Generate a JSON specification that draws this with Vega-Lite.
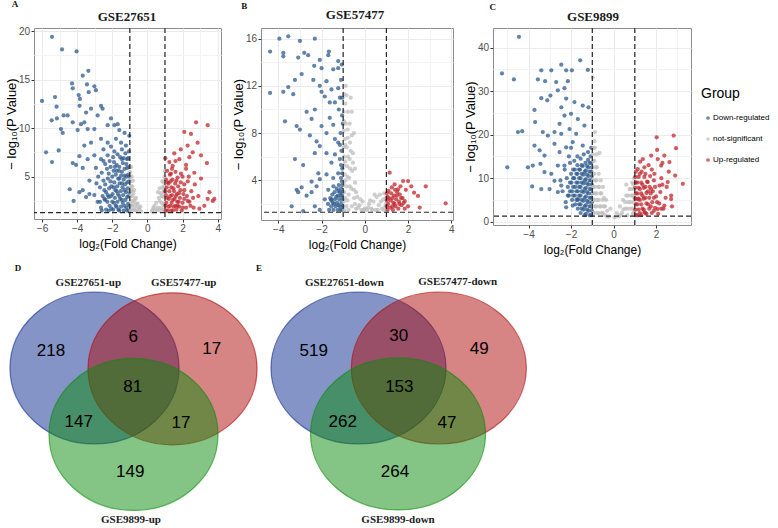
{
"$schema":"https://vega.github.io/schema/vega-lite/v6.json",
"background":"white",
"padding":{"left":4,"top":0,"right":0,"bottom":0},
"bounds":"flush",
"columns":3,
"spacing":{"row":47,"column":40},
"resolve":{"scale":{"color":"independent"}},
"datasets":{
"A":[
{"x":-5.43,"y":19.4,"g":"D"},{"x":-4.86,"y":18.1,"g":"D"},{"x":-4.03,"y":17.9,"g":"D"},{"x":-6.0,"y":12.8,"g":"D"},{"x":-5.26,"y":13.2,"g":"D"},{"x":-5.77,"y":7.5,"g":"D"},{"x":-5.43,"y":6.5,"g":"D"},{"x":-5.45,"y":10.8,"g":"D"},{"x":-5.17,"y":12.2,"g":"D"},{"x":-5.15,"y":11.0,"g":"D"},{"x":-5.05,"y":7.7,"g":"D"},{"x":-4.92,"y":9.9,"g":"D"},{"x":-4.82,"y":9.5,"g":"D"},{"x":-4.77,"y":11.3,"g":"D"},{"x":-4.54,"y":11.3,"g":"D"},{"x":-4.29,"y":14.6,"g":"D"},{"x":-4.25,"y":14.1,"g":"D"},{"x":-4.42,"y":3.7,"g":"D"},{"x":-4.2,"y":2.5,"g":"D"},{"x":-4.25,"y":6.4,"g":"D"},{"x":-4.06,"y":6.2,"g":"D"},{"x":-3.91,"y":13.4,"g":"D"},{"x":-3.84,"y":13.0,"g":"D"},{"x":-3.86,"y":12.3,"g":"D"},{"x":-3.68,"y":15.4,"g":"D"},{"x":-3.36,"y":15.9,"g":"D"},{"x":-3.44,"y":14.5,"g":"D"},{"x":-3.34,"y":13.7,"g":"D"},{"x":-3.02,"y":14.3,"g":"D"},{"x":-2.93,"y":13.9,"g":"D"},{"x":-2.64,"y":12.3,"g":"D"},{"x":-2.55,"y":12.0,"g":"D"},{"x":-3.21,"y":12.0,"g":"D"},{"x":-3.49,"y":11.6,"g":"D"},{"x":-3.59,"y":10.6,"g":"D"},{"x":-3.78,"y":10.4,"g":"D"},{"x":-4.25,"y":10.6,"g":"D"},{"x":-3.97,"y":9.8,"g":"D"},{"x":-3.4,"y":9.9,"g":"D"},{"x":-3.02,"y":9.9,"g":"D"},{"x":-2.83,"y":11.3,"g":"D"},{"x":-2.26,"y":10.3,"g":"D"},{"x":-2.07,"y":11.0,"g":"D"},{"x":-1.88,"y":10.3,"g":"D"},{"x":-1.69,"y":10.4,"g":"D"},{"x":-1.6,"y":9.8,"g":"D"},{"x":-1.79,"y":8.9,"g":"D"},{"x":-2.26,"y":8.5,"g":"D"},{"x":-2.64,"y":8.9,"g":"D"},{"x":-3.21,"y":8.5,"g":"D"},{"x":-3.59,"y":8.2,"g":"D"},{"x":-3.87,"y":7.1,"g":"D"},{"x":-3.68,"y":5.9,"g":"D"},{"x":-3.4,"y":6.8,"g":"D"},{"x":-3.02,"y":7.2,"g":"D"},{"x":-2.93,"y":5.9,"g":"D"},{"x":-2.64,"y":6.8,"g":"D"},{"x":-2.26,"y":7.2,"g":"D"},{"x":-2.07,"y":8.1,"g":"D"},{"x":-1.88,"y":7.6,"g":"D"},{"x":-3.87,"y":3.4,"g":"D"},{"x":-3.68,"y":3.6,"g":"D"},{"x":-3.49,"y":2.9,"g":"D"},{"x":-3.3,"y":3.2,"g":"D"},{"x":-3.02,"y":3.1,"g":"D"},{"x":-2.83,"y":2.4,"g":"D"},{"x":-2.64,"y":1.8,"g":"D"},{"x":-2.45,"y":2.7,"g":"D"},{"x":-2.26,"y":3.1,"g":"D"},{"x":-3.3,"y":4.6,"g":"D"},{"x":-1.03,"y":9.2,"g":"D"},{"x":-1.22,"y":8.2,"g":"D"},{"x":-1.5,"y":8.5,"g":"D"},{"x":-2.4,"y":6.3,"g":"D"},{"x":-2.15,"y":6.6,"g":"D"},{"x":-1.95,"y":7.0,"g":"D"},{"x":-1.7,"y":7.3,"g":"D"},{"x":-1.45,"y":7.8,"g":"D"},{"x":-1.3,"y":9.5,"g":"D"},{"x":-2.5,"y":7.8,"g":"D"},{"x":-1.1,"y":6.9,"g":"D"},
{"x":-1.05,"y":1.5,"g":"D"},{"x":-1.1,"y":2.2,"g":"D"},{"x":-1.08,"y":3.0,"g":"D"},{"x":-1.12,"y":3.8,"g":"D"},{"x":-1.05,"y":4.5,"g":"D"},{"x":-1.1,"y":5.2,"g":"D"},{"x":-1.03,"y":6.0,"g":"D"},{"x":-1.15,"y":6.8,"g":"D"},{"x":-1.2,"y":1.8,"g":"D"},{"x":-1.25,"y":2.6,"g":"D"},{"x":-1.22,"y":3.4,"g":"D"},{"x":-1.28,"y":4.2,"g":"D"},{"x":-1.2,"y":5.0,"g":"D"},{"x":-1.3,"y":5.8,"g":"D"},{"x":-1.25,"y":7.4,"g":"D"},{"x":-1.35,"y":1.5,"g":"D"},{"x":-1.4,"y":2.3,"g":"D"},{"x":-1.38,"y":3.1,"g":"D"},{"x":-1.42,"y":3.9,"g":"D"},{"x":-1.35,"y":4.7,"g":"D"},{"x":-1.45,"y":5.5,"g":"D"},{"x":-1.4,"y":6.4,"g":"D"},{"x":-1.5,"y":1.9,"g":"D"},{"x":-1.55,"y":2.7,"g":"D"},{"x":-1.52,"y":3.5,"g":"D"},{"x":-1.58,"y":4.3,"g":"D"},{"x":-1.5,"y":5.1,"g":"D"},{"x":-1.6,"y":6.0,"g":"D"},{"x":-1.55,"y":7.0,"g":"D"},{"x":-1.65,"y":1.6,"g":"D"},{"x":-1.7,"y":2.4,"g":"D"},{"x":-1.68,"y":3.2,"g":"D"},{"x":-1.72,"y":4.0,"g":"D"},{"x":-1.66,"y":4.8,"g":"D"},{"x":-1.75,"y":5.6,"g":"D"},{"x":-1.8,"y":2.0,"g":"D"},{"x":-1.85,"y":2.8,"g":"D"},{"x":-1.82,"y":3.6,"g":"D"},{"x":-1.88,"y":4.4,"g":"D"},{"x":-1.8,"y":5.2,"g":"D"},{"x":-1.9,"y":6.5,"g":"D"},{"x":-1.95,"y":1.6,"g":"D"},{"x":-2.0,"y":2.4,"g":"D"},{"x":-1.98,"y":3.2,"g":"D"},{"x":-2.05,"y":4.0,"g":"D"},{"x":-2.0,"y":5.0,"g":"D"},{"x":-2.1,"y":6.0,"g":"D"},{"x":-2.15,"y":2.0,"g":"D"},{"x":-2.2,"y":2.9,"g":"D"},{"x":-2.18,"y":3.8,"g":"D"},{"x":-2.25,"y":4.8,"g":"D"},{"x":-2.3,"y":5.8,"g":"D"},{"x":-2.35,"y":1.6,"g":"D"},{"x":-2.4,"y":2.6,"g":"D"},{"x":-2.45,"y":3.6,"g":"D"},{"x":-2.5,"y":4.6,"g":"D"},{"x":-2.6,"y":1.5,"g":"D"},{"x":-2.7,"y":3.9,"g":"D"},{"x":-2.8,"y":5.0,"g":"D"},
{"x":-1.02,"y":2.0,"g":"D"},{"x":-1.02,"y":3.4,"g":"D"},{"x":-1.02,"y":5.0,"g":"D"},{"x":-1.15,"y":1.5,"g":"D"},{"x":-1.15,"y":2.9,"g":"D"},{"x":-1.15,"y":4.4,"g":"D"},{"x":-1.15,"y":5.9,"g":"D"},{"x":-1.3,"y":2.0,"g":"D"},{"x":-1.3,"y":3.6,"g":"D"},{"x":-1.3,"y":5.1,"g":"D"},{"x":-1.45,"y":2.6,"g":"D"},{"x":-1.45,"y":4.3,"g":"D"},{"x":-1.45,"y":6.8,"g":"D"},{"x":-1.6,"y":1.5,"g":"D"},{"x":-1.6,"y":3.0,"g":"D"},{"x":-1.6,"y":4.8,"g":"D"},{"x":-1.62,"y":5.6,"g":"D"},{"x":-1.75,"y":1.9,"g":"D"},{"x":-1.75,"y":3.5,"g":"D"},{"x":-1.75,"y":6.2,"g":"D"},{"x":-1.9,"y":2.3,"g":"D"},{"x":-1.92,"y":3.9,"g":"D"},{"x":-1.92,"y":5.6,"g":"D"},{"x":-2.05,"y":1.7,"g":"D"},{"x":-2.08,"y":3.0,"g":"D"},{"x":-2.1,"y":4.5,"g":"D"},{"x":-2.2,"y":5.3,"g":"D"},{"x":-2.28,"y":2.4,"g":"D"},{"x":-2.35,"y":3.4,"g":"D"},{"x":-2.4,"y":4.2,"g":"D"},{"x":-2.55,"y":3.0,"g":"D"},{"x":-2.6,"y":5.4,"g":"D"},{"x":-2.7,"y":2.4,"g":"D"},{"x":-2.9,"y":4.3,"g":"D"},{"x":-2.5,"y":6.6,"g":"D"},{"x":-1.2,"y":6.3,"g":"D"},{"x":-1.35,"y":6.9,"g":"D"},{"x":-1.85,"y":6.0,"g":"D"},{"x":-2.2,"y":1.5,"g":"D"},{"x":-1.05,"y":7.6,"g":"D"},
{"x":-0.95,"y":1.5,"g":"N"},{"x":-0.95,"y":2.5,"g":"N"},{"x":-0.97,"y":3.5,"g":"N"},{"x":-0.95,"y":4.5,"g":"N"},{"x":-0.98,"y":5.5,"g":"N"},{"x":-0.9,"y":5.0,"g":"N"},{"x":-0.88,"y":2.0,"g":"N"},{"x":-0.85,"y":3.0,"g":"N"},{"x":-0.87,"y":4.0,"g":"N"},{"x":-0.8,"y":1.6,"g":"N"},{"x":-0.78,"y":2.5,"g":"N"},{"x":-0.75,"y":3.6,"g":"N"},{"x":-0.7,"y":1.9,"g":"N"},{"x":-0.65,"y":2.8,"g":"N"},{"x":-0.6,"y":1.5,"g":"N"},{"x":-0.55,"y":2.2,"g":"N"},{"x":-0.45,"y":1.6,"g":"N"},{"x":-0.35,"y":1.4,"g":"N"},{"x":-0.82,"y":4.6,"g":"N"},{"x":-0.92,"y":6.0,"g":"N"},{"x":0.25,"y":1.4,"g":"N"},{"x":0.35,"y":1.8,"g":"N"},{"x":0.45,"y":1.5,"g":"N"},{"x":0.5,"y":2.3,"g":"N"},{"x":0.6,"y":1.8,"g":"N"},{"x":0.65,"y":2.8,"g":"N"},{"x":0.7,"y":1.5,"g":"N"},{"x":0.75,"y":3.3,"g":"N"},{"x":0.8,"y":2.3,"g":"N"},{"x":0.85,"y":3.9,"g":"N"},{"x":0.88,"y":1.6,"g":"N"},{"x":0.9,"y":2.9,"g":"N"},{"x":0.93,"y":4.4,"g":"N"},{"x":0.95,"y":3.6,"g":"N"},{"x":0.97,"y":2.2,"g":"N"},{"x":0.98,"y":5.0,"g":"N"},{"x":0.99,"y":5.6,"g":"N"},{"x":0.6,"y":3.4,"g":"N"},
{"x":-0.93,"y":2.0,"g":"N"},{"x":-0.93,"y":3.0,"g":"N"},{"x":-0.92,"y":4.0,"g":"N"},{"x":-0.9,"y":1.5,"g":"N"},{"x":-0.88,"y":3.6,"g":"N"},{"x":-0.83,"y":2.2,"g":"N"},{"x":-0.8,"y":3.3,"g":"N"},{"x":-0.72,"y":2.6,"g":"N"},{"x":-0.68,"y":1.5,"g":"N"},{"x":-0.62,"y":2.2,"g":"N"},{"x":-0.5,"y":1.8,"g":"N"},{"x":-0.4,"y":1.9,"g":"N"},{"x":0.3,"y":1.6,"g":"N"},{"x":0.4,"y":2.0,"g":"N"},{"x":0.55,"y":1.6,"g":"N"},{"x":0.7,"y":2.5,"g":"N"},{"x":0.78,"y":1.8,"g":"N"},{"x":0.82,"y":3.0,"g":"N"},{"x":0.9,"y":2.2,"g":"N"},{"x":0.92,"y":3.4,"g":"N"},{"x":0.95,"y":1.5,"g":"N"},{"x":0.96,"y":4.0,"g":"N"},{"x":0.7,"y":3.8,"g":"N"},{"x":0.85,"y":4.5,"g":"N"},
{"x":1.05,"y":1.5,"g":"U"},{"x":1.08,"y":2.3,"g":"U"},{"x":1.05,"y":3.1,"g":"U"},{"x":1.1,"y":3.9,"g":"U"},{"x":1.06,"y":4.7,"g":"U"},{"x":1.2,"y":1.9,"g":"U"},{"x":1.22,"y":2.7,"g":"U"},{"x":1.25,"y":3.5,"g":"U"},{"x":1.2,"y":4.3,"g":"U"},{"x":1.28,"y":5.2,"g":"U"},{"x":1.35,"y":1.5,"g":"U"},{"x":1.38,"y":2.3,"g":"U"},{"x":1.4,"y":3.1,"g":"U"},{"x":1.36,"y":3.9,"g":"U"},{"x":1.42,"y":4.7,"g":"U"},{"x":1.5,"y":1.9,"g":"U"},{"x":1.55,"y":2.7,"g":"U"},{"x":1.52,"y":3.5,"g":"U"},{"x":1.58,"y":4.3,"g":"U"},{"x":1.6,"y":5.5,"g":"U"},{"x":1.65,"y":1.6,"g":"U"},{"x":1.7,"y":2.4,"g":"U"},{"x":1.68,"y":3.2,"g":"U"},{"x":1.75,"y":4.0,"g":"U"},{"x":1.72,"y":4.9,"g":"U"},{"x":1.8,"y":1.9,"g":"U"},{"x":1.85,"y":2.8,"g":"U"},{"x":1.88,"y":3.6,"g":"U"},{"x":1.95,"y":1.5,"g":"U"},{"x":2.0,"y":2.3,"g":"U"},{"x":2.05,"y":3.2,"g":"U"},{"x":2.1,"y":4.2,"g":"U"},{"x":2.2,"y":1.8,"g":"U"},{"x":2.25,"y":3.0,"g":"U"},{"x":2.3,"y":4.5,"g":"U"},{"x":2.45,"y":2.0,"g":"U"},{"x":2.5,"y":3.5,"g":"U"},{"x":2.2,"y":6.2,"g":"U"},{"x":1.9,"y":7.8,"g":"U"},{"x":1.6,"y":6.6,"g":"U"},{"x":2.35,"y":5.0,"g":"U"},{"x":2.7,"y":4.2,"g":"U"},{"x":2.9,"y":3.0,"g":"U"},
{"x":1.02,"y":2.0,"g":"U"},{"x":1.02,"y":3.5,"g":"U"},{"x":1.12,"y":2.8,"g":"U"},{"x":1.15,"y":1.5,"g":"U"},{"x":1.15,"y":4.4,"g":"U"},{"x":1.3,"y":2.0,"g":"U"},{"x":1.3,"y":3.0,"g":"U"},{"x":1.32,"y":4.5,"g":"U"},{"x":1.45,"y":1.5,"g":"U"},{"x":1.45,"y":2.6,"g":"U"},{"x":1.48,"y":3.8,"g":"U"},{"x":1.6,"y":2.0,"g":"U"},{"x":1.62,"y":3.0,"g":"U"},{"x":1.65,"y":4.6,"g":"U"},{"x":1.78,"y":2.4,"g":"U"},{"x":1.8,"y":3.3,"g":"U"},{"x":1.9,"y":4.4,"g":"U"},{"x":2.0,"y":1.8,"g":"U"},{"x":2.1,"y":3.6,"g":"U"},{"x":2.3,"y":2.5,"g":"U"},{"x":1.12,"y":5.6,"g":"U"},{"x":1.4,"y":5.8,"g":"U"},{"x":2.0,"y":5.0,"g":"U"},{"x":2.6,"y":2.8,"g":"U"},
{"x":2.77,"y":10.6,"g":"U"},{"x":3.43,"y":10.3,"g":"U"},{"x":2.1,"y":9.6,"g":"U"},{"x":2.48,"y":9.4,"g":"U"},{"x":1.53,"y":7.4,"g":"U"},{"x":1.82,"y":6.8,"g":"U"},{"x":2.29,"y":8.2,"g":"U"},{"x":2.58,"y":7.5,"g":"U"},{"x":2.39,"y":7.0,"g":"U"},{"x":2.86,"y":8.5,"g":"U"},{"x":3.05,"y":7.2,"g":"U"},{"x":3.39,"y":6.4,"g":"U"},{"x":1.02,"y":6.9,"g":"U"},{"x":1.25,"y":6.5,"g":"U"},{"x":1.44,"y":6.1,"g":"U"},{"x":1.34,"y":5.3,"g":"U"},{"x":1.91,"y":5.3,"g":"U"},{"x":2.2,"y":5.8,"g":"U"},{"x":2.67,"y":5.4,"g":"U"},{"x":3.05,"y":4.8,"g":"U"},{"x":3.53,"y":3.4,"g":"U"},{"x":3.43,"y":2.7,"g":"U"},{"x":3.72,"y":2.5,"g":"U"},{"x":3.81,"y":2.7,"g":"U"},{"x":3.24,"y":2.0,"g":"U"},{"x":2.96,"y":1.7,"g":"U"},{"x":2.63,"y":1.8,"g":"U"},{"x":2.39,"y":2.4,"g":"U"},{"x":2.1,"y":2.7,"g":"U"},{"x":1.72,"y":2.0,"g":"U"}
],
"B":[
{"x":-3.54,"y":16.2,"g":"D"},{"x":-3.95,"y":16.0,"g":"D"},{"x":-2.31,"y":16.0,"g":"D"},{"x":-3.0,"y":15.8,"g":"D"},{"x":-4.38,"y":14.9,"g":"D"},{"x":-3.77,"y":14.8,"g":"D"},{"x":-3.77,"y":14.5,"g":"D"},{"x":-2.8,"y":14.8,"g":"D"},{"x":-2.62,"y":14.6,"g":"D"},{"x":-3.08,"y":14.4,"g":"D"},{"x":-2.08,"y":14.2,"g":"D"},{"x":-1.66,"y":14.9,"g":"D"},{"x":-1.69,"y":14.6,"g":"D"},{"x":-1.23,"y":14.1,"g":"D"},{"x":-2.34,"y":13.7,"g":"D"},{"x":-2.0,"y":13.5,"g":"D"},{"x":-1.46,"y":13.4,"g":"D"},{"x":-1.23,"y":13.5,"g":"D"},{"x":-2.92,"y":13.0,"g":"D"},{"x":-3.23,"y":12.5,"g":"D"},{"x":-3.54,"y":11.9,"g":"D"},{"x":-3.77,"y":11.5,"g":"D"},{"x":-4.38,"y":11.4,"g":"D"},{"x":-3.31,"y":11.3,"g":"D"},{"x":-2.38,"y":12.5,"g":"D"},{"x":-2.08,"y":12.0,"g":"D"},{"x":-1.77,"y":12.4,"g":"D"},{"x":-1.54,"y":11.7,"g":"D"},{"x":-1.23,"y":11.8,"g":"D"},{"x":-2.0,"y":11.5,"g":"D"},{"x":-1.85,"y":11.1,"g":"D"},{"x":-1.62,"y":10.6,"g":"D"},{"x":-1.38,"y":10.6,"g":"D"},{"x":-1.15,"y":11.0,"g":"D"},{"x":-2.31,"y":10.0,"g":"D"},{"x":-2.69,"y":9.8,"g":"D"},{"x":-2.46,"y":9.2,"g":"D"},{"x":-3.69,"y":9.0,"g":"D"},{"x":-3.15,"y":8.6,"g":"D"},{"x":-3.0,"y":8.3,"g":"D"},{"x":-2.54,"y":7.8,"g":"D"},{"x":-2.0,"y":8.6,"g":"D"},{"x":-1.62,"y":9.3,"g":"D"},{"x":-1.46,"y":8.7,"g":"D"},{"x":-1.77,"y":8.0,"g":"D"},{"x":-1.38,"y":7.5,"g":"D"},{"x":-1.23,"y":7.2,"g":"D"},{"x":-2.23,"y":7.3,"g":"D"},{"x":-2.08,"y":6.9,"g":"D"},{"x":-2.31,"y":6.3,"g":"D"},{"x":-3.23,"y":5.8,"g":"D"},{"x":-2.85,"y":5.3,"g":"D"},{"x":-1.77,"y":6.3,"g":"D"},{"x":-1.38,"y":6.2,"g":"D"},{"x":-1.54,"y":5.5,"g":"D"},{"x":-1.15,"y":5.8,"g":"D"},{"x":-2.15,"y":4.6,"g":"D"},{"x":-2.46,"y":3.9,"g":"D"},{"x":-2.08,"y":4.1,"g":"D"},{"x":-1.77,"y":4.5,"g":"D"},{"x":-1.46,"y":4.2,"g":"D"},{"x":-1.23,"y":4.6,"g":"D"},{"x":-3.15,"y":3.2,"g":"D"},{"x":-2.92,"y":3.4,"g":"D"},{"x":-3.08,"y":3.0,"g":"D"},{"x":-2.69,"y":2.7,"g":"D"},{"x":-2.46,"y":3.0,"g":"D"},{"x":-2.23,"y":3.5,"g":"D"},{"x":-3.38,"y":1.8,"g":"D"},{"x":-2.85,"y":1.4,"g":"D"},{"x":-2.31,"y":1.8,"g":"D"},{"x":-2.08,"y":1.5,"g":"D"},{"x":-1.85,"y":2.4,"g":"D"},{"x":-1.69,"y":3.2,"g":"D"},{"x":-1.54,"y":2.4,"g":"D"},
{"x":-1.05,"y":1.5,"g":"D"},{"x":-1.08,"y":2.1,"g":"D"},{"x":-1.05,"y":2.7,"g":"D"},{"x":-1.1,"y":3.3,"g":"D"},{"x":-1.06,"y":3.9,"g":"D"},{"x":-1.15,"y":1.8,"g":"D"},{"x":-1.18,"y":2.4,"g":"D"},{"x":-1.15,"y":3.0,"g":"D"},{"x":-1.2,"y":3.6,"g":"D"},{"x":-1.25,"y":1.5,"g":"D"},{"x":-1.28,"y":2.1,"g":"D"},{"x":-1.25,"y":2.7,"g":"D"},{"x":-1.3,"y":3.3,"g":"D"},{"x":-1.35,"y":1.8,"g":"D"},{"x":-1.38,"y":2.4,"g":"D"},{"x":-1.4,"y":3.0,"g":"D"},{"x":-1.45,"y":1.5,"g":"D"},{"x":-1.48,"y":2.1,"g":"D"},{"x":-1.5,"y":2.8,"g":"D"},{"x":-1.55,"y":1.8,"g":"D"},{"x":-1.6,"y":2.5,"g":"D"},{"x":-1.65,"y":1.5,"g":"D"},{"x":-1.05,"y":4.6,"g":"D"},{"x":-1.1,"y":5.3,"g":"D"},{"x":-1.08,"y":6.5,"g":"D"},{"x":-1.12,"y":8.0,"g":"D"},{"x":-1.05,"y":9.5,"g":"D"},{"x":-1.1,"y":12.5,"g":"D"},{"x":-1.06,"y":13.8,"g":"D"},{"x":-1.2,"y":10.0,"g":"D"},{"x":-1.15,"y":7.0,"g":"D"},
{"x":-1.02,"y":1.8,"g":"D"},{"x":-1.02,"y":2.4,"g":"D"},{"x":-1.03,"y":3.0,"g":"D"},{"x":-1.03,"y":3.6,"g":"D"},{"x":-1.12,"y":1.5,"g":"D"},{"x":-1.12,"y":2.7,"g":"D"},{"x":-1.22,"y":1.9,"g":"D"},{"x":-1.22,"y":3.1,"g":"D"},{"x":-1.32,"y":2.6,"g":"D"},{"x":-1.42,"y":2.0,"g":"D"},{"x":-1.45,"y":3.5,"g":"D"},{"x":-1.55,"y":2.3,"g":"D"},{"x":-1.7,"y":2.0,"g":"D"},{"x":-1.04,"y":5.0,"g":"D"},{"x":-1.02,"y":8.8,"g":"D"},{"x":-1.04,"y":11.0,"g":"D"},{"x":-1.1,"y":4.2,"g":"D"},
{"x":-0.95,"y":1.5,"g":"N"},{"x":-0.95,"y":3.0,"g":"N"},{"x":-0.93,"y":4.5,"g":"N"},{"x":-0.95,"y":6.0,"g":"N"},{"x":-0.92,"y":7.5,"g":"N"},{"x":-0.95,"y":9.0,"g":"N"},{"x":-0.9,"y":10.5,"g":"N"},{"x":-0.88,"y":12.0,"g":"N"},{"x":-0.85,"y":11.2,"g":"N"},{"x":-0.85,"y":1.8,"g":"N"},{"x":-0.85,"y":3.5,"g":"N"},{"x":-0.82,"y":5.2,"g":"N"},{"x":-0.83,"y":6.8,"g":"N"},{"x":-0.8,"y":8.3,"g":"N"},{"x":-0.78,"y":9.8,"g":"N"},{"x":-0.75,"y":1.5,"g":"N"},{"x":-0.75,"y":2.8,"g":"N"},{"x":-0.72,"y":4.2,"g":"N"},{"x":-0.7,"y":5.8,"g":"N"},{"x":-0.68,"y":7.2,"g":"N"},{"x":-0.7,"y":8.8,"g":"N"},{"x":-0.6,"y":1.8,"g":"N"},{"x":-0.62,"y":3.3,"g":"N"},{"x":-0.58,"y":4.8,"g":"N"},{"x":-0.55,"y":6.3,"g":"N"},{"x":-0.5,"y":8.0,"g":"N"},{"x":-0.5,"y":2.5,"g":"N"},{"x":-0.45,"y":3.8,"g":"N"},{"x":-0.4,"y":1.6,"g":"N"},{"x":-0.35,"y":2.6,"g":"N"},{"x":-0.25,"y":1.9,"g":"N"},{"x":-0.15,"y":1.5,"g":"N"},{"x":-0.6,"y":9.8,"g":"N"},{"x":-0.65,"y":11.0,"g":"N"},{"x":0.1,"y":1.5,"g":"N"},{"x":0.2,"y":2.0,"g":"N"},{"x":0.3,"y":1.6,"g":"N"},{"x":0.4,"y":2.2,"g":"N"},{"x":0.5,"y":1.5,"g":"N"},{"x":0.55,"y":2.6,"g":"N"},{"x":0.65,"y":1.9,"g":"N"},{"x":0.7,"y":2.8,"g":"N"},{"x":0.8,"y":1.6,"g":"N"},{"x":0.85,"y":2.4,"g":"N"},{"x":0.9,"y":2.9,"g":"N"},{"x":0.95,"y":1.8,"g":"N"},{"x":0.97,"y":2.5,"g":"N"},{"x":0.0,"y":1.6,"g":"N"},{"x":-0.1,"y":2.2,"g":"N"},
{"x":-0.97,"y":2.2,"g":"N"},{"x":-0.97,"y":3.8,"g":"N"},{"x":-0.97,"y":5.3,"g":"N"},{"x":-0.97,"y":6.8,"g":"N"},{"x":-0.97,"y":8.2,"g":"N"},{"x":-0.97,"y":9.8,"g":"N"},{"x":-0.95,"y":11.3,"g":"N"},{"x":-0.9,"y":2.5,"g":"N"},{"x":-0.9,"y":4.0,"g":"N"},{"x":-0.9,"y":5.6,"g":"N"},{"x":-0.9,"y":7.0,"g":"N"},{"x":-0.88,"y":8.8,"g":"N"},{"x":-0.8,"y":2.3,"g":"N"},{"x":-0.8,"y":4.3,"g":"N"},{"x":-0.78,"y":6.0,"g":"N"},{"x":-0.78,"y":7.6,"g":"N"},{"x":-0.7,"y":3.5,"g":"N"},{"x":-0.68,"y":5.0,"g":"N"},{"x":-0.65,"y":6.5,"g":"N"},{"x":-0.6,"y":7.8,"g":"N"},{"x":-0.55,"y":5.5,"g":"N"},{"x":-0.5,"y":3.2,"g":"N"},{"x":-0.45,"y":2.0,"g":"N"},{"x":-0.45,"y":5.0,"g":"N"},{"x":-0.4,"y":3.0,"g":"N"},{"x":-0.3,"y":1.7,"g":"N"},{"x":-0.2,"y":2.4,"g":"N"},{"x":-0.05,"y":1.5,"g":"N"},{"x":0.15,"y":1.7,"g":"N"},{"x":0.25,"y":2.3,"g":"N"},{"x":0.35,"y":1.5,"g":"N"},{"x":0.45,"y":2.8,"g":"N"},{"x":0.6,"y":1.5,"g":"N"},{"x":0.75,"y":2.2,"g":"N"},{"x":0.9,"y":1.5,"g":"N"},{"x":0.98,"y":2.0,"g":"N"},
{"x":1.05,"y":1.5,"g":"U"},{"x":1.08,"y":2.0,"g":"U"},{"x":1.05,"y":2.6,"g":"U"},{"x":1.1,"y":3.1,"g":"U"},{"x":1.18,"y":1.7,"g":"U"},{"x":1.2,"y":2.3,"g":"U"},{"x":1.22,"y":2.9,"g":"U"},{"x":1.3,"y":1.5,"g":"U"},{"x":1.32,"y":2.1,"g":"U"},{"x":1.35,"y":2.7,"g":"U"},{"x":1.42,"y":1.8,"g":"U"},{"x":1.45,"y":2.4,"g":"U"},{"x":1.5,"y":3.0,"g":"U"},{"x":1.55,"y":1.6,"g":"U"},{"x":1.58,"y":2.2,"g":"U"},{"x":1.62,"y":2.8,"g":"U"},{"x":1.7,"y":1.9,"g":"U"},{"x":1.75,"y":2.5,"g":"U"},{"x":1.85,"y":1.6,"g":"U"},{"x":1.9,"y":3.2,"g":"U"},{"x":1.25,"y":3.4,"g":"U"},{"x":1.65,"y":3.5,"g":"U"},
{"x":1.02,"y":1.8,"g":"U"},{"x":1.02,"y":2.3,"g":"U"},{"x":1.02,"y":2.9,"g":"U"},{"x":1.12,"y":2.5,"g":"U"},{"x":1.28,"y":1.8,"g":"U"},{"x":1.28,"y":2.5,"g":"U"},{"x":1.38,"y":2.0,"g":"U"},{"x":1.48,"y":2.7,"g":"U"},{"x":1.6,"y":2.0,"g":"U"},{"x":1.68,"y":2.5,"g":"U"},{"x":1.8,"y":2.1,"g":"U"},{"x":1.4,"y":3.2,"g":"U"},
{"x":1.15,"y":4.65,"g":"U"},{"x":1.38,"y":3.66,"g":"U"},{"x":1.77,"y":3.94,"g":"U"},{"x":2.0,"y":3.94,"g":"U"},{"x":1.54,"y":3.24,"g":"U"},{"x":2.15,"y":3.5,"g":"U"},{"x":2.82,"y":3.5,"g":"U"},{"x":2.28,"y":2.96,"g":"U"},{"x":2.46,"y":2.68,"g":"U"},{"x":2.54,"y":1.7,"g":"U"},{"x":3.74,"y":2.06,"g":"U"},{"x":1.85,"y":2.25,"g":"U"},{"x":2.0,"y":1.8,"g":"U"}
],
"C":[
{"x":-4.45,"y":42.5,"g":"D"},{"x":-5.25,"y":34.1,"g":"D"},{"x":-4.69,"y":32.7,"g":"D"},{"x":-5.0,"y":12.5,"g":"D"},{"x":-4.5,"y":20.6,"g":"D"},{"x":-4.3,"y":20.8,"g":"D"},{"x":-3.4,"y":34.8,"g":"D"},{"x":-2.93,"y":34.8,"g":"D"},{"x":-2.46,"y":36.1,"g":"D"},{"x":-2.23,"y":34.8,"g":"D"},{"x":-1.96,"y":34.8,"g":"D"},{"x":-1.57,"y":37.1,"g":"D"},{"x":-1.21,"y":34.9,"g":"D"},{"x":-3.56,"y":32.7,"g":"D"},{"x":-3.22,"y":32.3,"g":"D"},{"x":-2.7,"y":32.1,"g":"D"},{"x":-2.15,"y":32.3,"g":"D"},{"x":-2.31,"y":30.7,"g":"D"},{"x":-2.62,"y":30.2,"g":"D"},{"x":-2.97,"y":29.0,"g":"D"},{"x":-3.4,"y":28.4,"g":"D"},{"x":-3.12,"y":27.9,"g":"D"},{"x":-2.46,"y":26.3,"g":"D"},{"x":-2.23,"y":28.3,"g":"D"},{"x":-1.84,"y":27.5,"g":"D"},{"x":-1.45,"y":26.7,"g":"D"},{"x":-1.18,"y":26.3,"g":"D"},{"x":-3.72,"y":25.7,"g":"D"},{"x":-3.69,"y":22.9,"g":"D"},{"x":-2.31,"y":24.4,"g":"D"},{"x":-2.0,"y":24.8,"g":"D"},{"x":-2.54,"y":22.5,"g":"D"},{"x":-1.68,"y":23.6,"g":"D"},{"x":-3.33,"y":20.6,"g":"D"},{"x":-3.09,"y":19.8,"g":"D"},{"x":-2.78,"y":20.6,"g":"D"},{"x":-2.46,"y":20.2,"g":"D"},{"x":-2.07,"y":21.3,"g":"D"},{"x":-1.76,"y":20.2,"g":"D"},{"x":-1.37,"y":22.1,"g":"D"},{"x":-3.72,"y":17.5,"g":"D"},{"x":-3.48,"y":16.4,"g":"D"},{"x":-3.25,"y":15.2,"g":"D"},{"x":-2.78,"y":17.9,"g":"D"},{"x":-2.54,"y":16.0,"g":"D"},{"x":-2.23,"y":17.1,"g":"D"},{"x":-1.92,"y":18.3,"g":"D"},{"x":-1.45,"y":17.5,"g":"D"},{"x":-4.03,"y":12.5,"g":"D"},{"x":-3.8,"y":12.9,"g":"D"},{"x":-3.44,"y":13.3,"g":"D"},{"x":-3.25,"y":11.4,"g":"D"},{"x":-2.93,"y":11.0,"g":"D"},{"x":-2.62,"y":12.9,"g":"D"},{"x":-2.31,"y":12.9,"g":"D"},{"x":-3.83,"y":8.1,"g":"D"},{"x":-3.4,"y":7.5,"g":"D"},{"x":-3.01,"y":7.5,"g":"D"},{"x":-2.78,"y":9.4,"g":"D"},{"x":-2.62,"y":6.8,"g":"D"},{"x":-2.46,"y":8.3,"g":"D"},{"x":-2.15,"y":6.0,"g":"D"},{"x":-2.23,"y":3.3,"g":"D"},{"x":-1.92,"y":3.7,"g":"D"},{"x":-1.68,"y":5.2,"g":"D"},
{"x":-1.05,"y":1.5,"g":"D"},{"x":-1.05,"y":3.5,"g":"D"},{"x":-1.05,"y":5.5,"g":"D"},{"x":-1.05,"y":7.5,"g":"D"},{"x":-1.05,"y":9.5,"g":"D"},{"x":-1.05,"y":11.5,"g":"D"},{"x":-1.05,"y":13.5,"g":"D"},{"x":-1.08,"y":15.0,"g":"D"},{"x":-1.18,"y":2.5,"g":"D"},{"x":-1.18,"y":4.5,"g":"D"},{"x":-1.18,"y":6.5,"g":"D"},{"x":-1.18,"y":8.5,"g":"D"},{"x":-1.18,"y":10.5,"g":"D"},{"x":-1.18,"y":12.5,"g":"D"},{"x":-1.2,"y":14.2,"g":"D"},{"x":-1.3,"y":1.8,"g":"D"},{"x":-1.3,"y":3.8,"g":"D"},{"x":-1.3,"y":5.8,"g":"D"},{"x":-1.3,"y":7.8,"g":"D"},{"x":-1.3,"y":9.8,"g":"D"},{"x":-1.3,"y":11.8,"g":"D"},{"x":-1.32,"y":13.5,"g":"D"},{"x":-1.42,"y":2.8,"g":"D"},{"x":-1.42,"y":4.8,"g":"D"},{"x":-1.42,"y":6.8,"g":"D"},{"x":-1.42,"y":8.8,"g":"D"},{"x":-1.42,"y":10.8,"g":"D"},{"x":-1.45,"y":12.8,"g":"D"},{"x":-1.55,"y":2.0,"g":"D"},{"x":-1.55,"y":4.0,"g":"D"},{"x":-1.55,"y":6.0,"g":"D"},{"x":-1.55,"y":8.0,"g":"D"},{"x":-1.55,"y":10.0,"g":"D"},{"x":-1.58,"y":12.0,"g":"D"},{"x":-1.55,"y":14.5,"g":"D"},{"x":-1.68,"y":3.0,"g":"D"},{"x":-1.68,"y":5.0,"g":"D"},{"x":-1.68,"y":7.0,"g":"D"},{"x":-1.68,"y":9.0,"g":"D"},{"x":-1.7,"y":11.0,"g":"D"},{"x":-1.7,"y":13.0,"g":"D"},{"x":-1.8,"y":4.0,"g":"D"},{"x":-1.82,"y":6.0,"g":"D"},{"x":-1.8,"y":8.0,"g":"D"},{"x":-1.85,"y":10.0,"g":"D"},{"x":-1.82,"y":12.0,"g":"D"},{"x":-1.95,"y":5.0,"g":"D"},{"x":-1.95,"y":7.0,"g":"D"},{"x":-1.98,"y":9.0,"g":"D"},{"x":-2.0,"y":11.0,"g":"D"},{"x":-2.05,"y":13.5,"g":"D"},{"x":-2.1,"y":6.0,"g":"D"},{"x":-2.15,"y":8.0,"g":"D"},{"x":-2.2,"y":10.0,"g":"D"},{"x":-2.25,"y":4.5,"g":"D"},{"x":-2.4,"y":7.0,"g":"D"},{"x":-2.5,"y":9.5,"g":"D"},{"x":-2.3,"y":12.0,"g":"D"},
{"x":-1.02,"y":2.5,"g":"D"},{"x":-1.02,"y":4.5,"g":"D"},{"x":-1.02,"y":6.5,"g":"D"},{"x":-1.02,"y":8.5,"g":"D"},{"x":-1.02,"y":10.5,"g":"D"},{"x":-1.02,"y":12.5,"g":"D"},{"x":-1.12,"y":1.5,"g":"D"},{"x":-1.12,"y":3.5,"g":"D"},{"x":-1.12,"y":5.5,"g":"D"},{"x":-1.12,"y":7.5,"g":"D"},{"x":-1.12,"y":9.5,"g":"D"},{"x":-1.12,"y":11.5,"g":"D"},{"x":-1.12,"y":13.5,"g":"D"},{"x":-1.25,"y":2.8,"g":"D"},{"x":-1.25,"y":4.8,"g":"D"},{"x":-1.25,"y":6.8,"g":"D"},{"x":-1.25,"y":8.8,"g":"D"},{"x":-1.25,"y":10.8,"g":"D"},{"x":-1.25,"y":12.8,"g":"D"},{"x":-1.36,"y":1.5,"g":"D"},{"x":-1.36,"y":3.5,"g":"D"},{"x":-1.36,"y":5.5,"g":"D"},{"x":-1.36,"y":7.5,"g":"D"},{"x":-1.36,"y":9.5,"g":"D"},{"x":-1.36,"y":11.5,"g":"D"},{"x":-1.5,"y":3.0,"g":"D"},{"x":-1.5,"y":5.0,"g":"D"},{"x":-1.5,"y":7.0,"g":"D"},{"x":-1.5,"y":9.0,"g":"D"},{"x":-1.5,"y":11.0,"g":"D"},{"x":-1.5,"y":13.0,"g":"D"},{"x":-1.62,"y":4.0,"g":"D"},{"x":-1.62,"y":6.0,"g":"D"},{"x":-1.62,"y":8.0,"g":"D"},{"x":-1.62,"y":10.0,"g":"D"},{"x":-1.62,"y":12.0,"g":"D"},{"x":-1.75,"y":5.0,"g":"D"},{"x":-1.75,"y":7.0,"g":"D"},{"x":-1.75,"y":9.0,"g":"D"},{"x":-1.75,"y":11.0,"g":"D"},{"x":-1.9,"y":6.0,"g":"D"},{"x":-1.9,"y":8.0,"g":"D"},{"x":-1.9,"y":10.0,"g":"D"},{"x":-1.9,"y":12.0,"g":"D"},{"x":-2.05,"y":7.0,"g":"D"},{"x":-2.05,"y":9.0,"g":"D"},{"x":-2.1,"y":15.0,"g":"D"},{"x":-1.05,"y":17.0,"g":"D"},{"x":-1.2,"y":16.0,"g":"D"},{"x":-1.4,"y":15.5,"g":"D"},{"x":-1.7,"y":15.0,"g":"D"},{"x":-1.85,"y":14.0,"g":"D"},{"x":-2.0,"y":17.0,"g":"D"},
{"x":-0.95,"y":2,"g":"N"},{"x":-0.95,"y":5,"g":"N"},{"x":-0.95,"y":8,"g":"N"},{"x":-0.95,"y":11,"g":"N"},{"x":-0.95,"y":14,"g":"N"},{"x":-0.93,"y":17,"g":"N"},{"x":-0.87,"y":20.6,"g":"N"},{"x":-0.98,"y":33.2,"g":"N"},{"x":-0.85,"y":3.5,"g":"N"},{"x":-0.85,"y":6.5,"g":"N"},{"x":-0.85,"y":9.5,"g":"N"},{"x":-0.83,"y":12.5,"g":"N"},{"x":-0.8,"y":15.5,"g":"N"},{"x":-0.75,"y":2,"g":"N"},{"x":-0.75,"y":5,"g":"N"},{"x":-0.73,"y":8,"g":"N"},{"x":-0.7,"y":11,"g":"N"},{"x":-0.66,"y":15.8,"g":"N"},{"x":-0.65,"y":3.5,"g":"N"},{"x":-0.62,"y":6.5,"g":"N"},{"x":-0.6,"y":9.5,"g":"N"},{"x":-0.55,"y":2,"g":"N"},{"x":-0.52,"y":5,"g":"N"},{"x":-0.5,"y":8,"g":"N"},{"x":-0.45,"y":3.5,"g":"N"},{"x":-0.4,"y":1.5,"g":"N"},{"x":-0.35,"y":5,"g":"N"},{"x":-0.3,"y":2.5,"g":"N"},{"x":-0.22,"y":1.2,"g":"N"},{"x":-0.15,"y":3,"g":"N"},{"x":-0.9,"y":18.5,"g":"N"},{"x":0.05,"y":1.0,"g":"N"},{"x":0.15,"y":2,"g":"N"},{"x":0.25,"y":1.2,"g":"N"},{"x":0.3,"y":3.5,"g":"N"},{"x":0.4,"y":2,"g":"N"},{"x":0.45,"y":5,"g":"N"},{"x":0.55,"y":3,"g":"N"},{"x":0.6,"y":6,"g":"N"},{"x":0.65,"y":1.5,"g":"N"},{"x":0.7,"y":4.5,"g":"N"},{"x":0.75,"y":7.5,"g":"N"},{"x":0.8,"y":3,"g":"N"},{"x":0.85,"y":6,"g":"N"},{"x":0.88,"y":9,"g":"N"},{"x":0.9,"y":1.8,"g":"N"},{"x":0.95,"y":4.5,"g":"N"},{"x":0.95,"y":7.5,"g":"N"},{"x":0.97,"y":10,"g":"N"},{"x":0.6,"y":8.5,"g":"N"},
{"x":-0.97,"y":3.5,"g":"N"},{"x":-0.97,"y":6.5,"g":"N"},{"x":-0.97,"y":9.5,"g":"N"},{"x":-0.97,"y":12.5,"g":"N"},{"x":-0.97,"y":15.5,"g":"N"},{"x":-0.9,"y":2.0,"g":"N"},{"x":-0.9,"y":5.0,"g":"N"},{"x":-0.9,"y":8.0,"g":"N"},{"x":-0.9,"y":11.0,"g":"N"},{"x":-0.9,"y":14.0,"g":"N"},{"x":-0.88,"y":17.0,"g":"N"},{"x":-0.8,"y":3.5,"g":"N"},{"x":-0.8,"y":6.5,"g":"N"},{"x":-0.8,"y":9.5,"g":"N"},{"x":-0.78,"y":12.5,"g":"N"},{"x":-0.7,"y":2.0,"g":"N"},{"x":-0.7,"y":5.0,"g":"N"},{"x":-0.68,"y":8.0,"g":"N"},{"x":-0.6,"y":3.5,"g":"N"},{"x":-0.58,"y":6.5,"g":"N"},{"x":-0.5,"y":2.0,"g":"N"},{"x":-0.45,"y":5.5,"g":"N"},{"x":-0.4,"y":3.5,"g":"N"},{"x":-0.3,"y":1.2,"g":"N"},{"x":0.3,"y":1.5,"g":"N"},{"x":0.45,"y":2.8,"g":"N"},{"x":0.55,"y":4.5,"g":"N"},{"x":0.65,"y":3.0,"g":"N"},{"x":0.7,"y":6.0,"g":"N"},{"x":0.8,"y":4.5,"g":"N"},{"x":0.82,"y":7.5,"g":"N"},{"x":0.9,"y":3.0,"g":"N"},{"x":0.92,"y":6.0,"g":"N"},{"x":0.93,"y":8.5,"g":"N"},{"x":0.97,"y":2.2,"g":"N"},{"x":0.98,"y":5.5,"g":"N"},
{"x":2.03,"y":19.4,"g":"U"},{"x":2.83,"y":19.8,"g":"U"},{"x":2.94,"y":16.9,"g":"U"},{"x":1.77,"y":15.2,"g":"U"},{"x":2.39,"y":15.2,"g":"U"},{"x":2.63,"y":13.7,"g":"U"},{"x":2.24,"y":12.9,"g":"U"},{"x":1.45,"y":12.5,"g":"U"},{"x":1.14,"y":12.1,"g":"U"},{"x":1.92,"y":11.0,"g":"U"},{"x":2.9,"y":10.6,"g":"U"},{"x":3.26,"y":8.7,"g":"U"},{"x":2.55,"y":9.1,"g":"U"},{"x":2.16,"y":8.3,"g":"U"},{"x":1.77,"y":7.5,"g":"U"},{"x":2.71,"y":6.0,"g":"U"},{"x":2.39,"y":3.7,"g":"U"},{"x":2.71,"y":5.2,"g":"U"},{"x":2.08,"y":2.9,"g":"U"},{"x":1.45,"y":2.2,"g":"U"},{"x":1.14,"y":5.2,"g":"U"},{"x":1.61,"y":9.1,"g":"U"},{"x":1.38,"y":14.4,"g":"U"},{"x":2.08,"y":14.4,"g":"U"},
{"x":1.05,"y":1.5,"g":"U"},{"x":1.05,"y":4,"g":"U"},{"x":1.05,"y":6.5,"g":"U"},{"x":1.05,"y":9,"g":"U"},{"x":1.05,"y":11.5,"g":"U"},{"x":1.18,"y":2.8,"g":"U"},{"x":1.18,"y":5.3,"g":"U"},{"x":1.18,"y":7.8,"g":"U"},{"x":1.18,"y":10.3,"g":"U"},{"x":1.3,"y":1.5,"g":"U"},{"x":1.3,"y":4,"g":"U"},{"x":1.3,"y":6.5,"g":"U"},{"x":1.3,"y":9,"g":"U"},{"x":1.32,"y":11.5,"g":"U"},{"x":1.42,"y":2.8,"g":"U"},{"x":1.42,"y":5.3,"g":"U"},{"x":1.42,"y":7.8,"g":"U"},{"x":1.45,"y":10.3,"g":"U"},{"x":1.55,"y":1.8,"g":"U"},{"x":1.55,"y":4.2,"g":"U"},{"x":1.55,"y":6.6,"g":"U"},{"x":1.58,"y":9.2,"g":"U"},{"x":1.68,"y":3,"g":"U"},{"x":1.68,"y":5.5,"g":"U"},{"x":1.7,"y":8,"g":"U"},{"x":1.72,"y":10.5,"g":"U"},{"x":1.8,"y":2,"g":"U"},{"x":1.82,"y":4.5,"g":"U"},{"x":1.85,"y":7,"g":"U"},{"x":1.9,"y":9.5,"g":"U"},{"x":1.95,"y":3.2,"g":"U"},{"x":2.0,"y":5.8,"g":"U"},{"x":2.1,"y":1.8,"g":"U"},{"x":2.15,"y":4.2,"g":"U"},{"x":2.2,"y":6.8,"g":"U"},{"x":2.25,"y":10,"g":"U"},{"x":2.35,"y":3,"g":"U"},{"x":2.45,"y":5.5,"g":"U"},{"x":2.5,"y":8,"g":"U"},{"x":2.6,"y":11.5,"g":"U"},{"x":2.3,"y":13.5,"g":"U"},{"x":1.65,"y":13,"g":"U"},{"x":1.25,"y":13.8,"g":"U"},{"x":2.05,"y":16.5,"g":"U"},{"x":2.75,"y":3.5,"g":"U"},
{"x":1.02,"y":2.8,"g":"U"},{"x":1.02,"y":5.3,"g":"U"},{"x":1.02,"y":7.8,"g":"U"},{"x":1.02,"y":10.3,"g":"U"},{"x":1.12,"y":1.5,"g":"U"},{"x":1.12,"y":4.0,"g":"U"},{"x":1.12,"y":6.5,"g":"U"},{"x":1.12,"y":9.0,"g":"U"},{"x":1.24,"y":2.0,"g":"U"},{"x":1.24,"y":5.0,"g":"U"},{"x":1.24,"y":7.5,"g":"U"},{"x":1.24,"y":11.0,"g":"U"},{"x":1.36,"y":3.0,"g":"U"},{"x":1.36,"y":6.0,"g":"U"},{"x":1.36,"y":8.5,"g":"U"},{"x":1.5,"y":2.0,"g":"U"},{"x":1.5,"y":5.5,"g":"U"},{"x":1.5,"y":8.0,"g":"U"},{"x":1.5,"y":11.0,"g":"U"},{"x":1.62,"y":4.0,"g":"U"},{"x":1.62,"y":7.0,"g":"U"},{"x":1.75,"y":3.5,"g":"U"},{"x":1.75,"y":6.5,"g":"U"},{"x":1.9,"y":2.5,"g":"U"},{"x":1.9,"y":5.5,"g":"U"},{"x":1.95,"y":8.0,"g":"U"},{"x":2.05,"y":4.5,"g":"U"},{"x":2.25,"y":3.0,"g":"U"},{"x":2.3,"y":8.5,"g":"U"},{"x":1.8,"y":12.0,"g":"U"}
]
},
"concat":[
{
"width":187,"height":191,
"resolve":{"axis":{"x":"independent","y":"independent"}},
"layer":[
{"data":{"name":"A"},"mark":{"type":"circle","size":18,"opacity":0.75},
"encoding":{
"x":{"field":"x","type":"quantitative","scale":{"domain":[-6.455,4.19],"nice":false,"zero":false},"axis":{"orient":"bottom","values":[-6,-4,-2,0,2,4],"title":"log₂(Fold Change)"}},
"y":{"field":"y","type":"quantitative","scale":{"domain":[0.636,20.31],"nice":false,"zero":false},"axis":{"orient":"left","values":[5,10,15,20],"title":"− log₁₀(P Value)"}},
"color":{"field":"g","type":"nominal","scale":{"domain":["D","N","U"],"range":["#2F5B8E","#BDBDBD","#C1272D"]},"legend":null}}},
{"data":{"values":[{"v":-1},{"v":1}]},"mark":{"type":"rule","strokeDash":[5,3],"color":"#262626","strokeWidth":1.2},
"encoding":{"x":{"field":"v","type":"quantitative","scale":{"domain":[-6.455,4.19],"nice":false,"zero":false},"axis":{"orient":"top","values":[-5,-3,-1,1,3],"labels":false,"ticks":false,"domain":false,"title":null,"grid":true,"gridColor":"#F3F3F3"}}}},
{"data":{"values":[{"v":1.3}]},"mark":{"type":"rule","strokeDash":[5,3],"color":"#262626","strokeWidth":1.2},
"encoding":{"y":{"field":"v","type":"quantitative","scale":{"domain":[0.636,20.31],"nice":false,"zero":false},"axis":{"orient":"right","values":[2.5,7.5,12.5,17.5],"labels":false,"ticks":false,"domain":false,"title":null,"grid":true,"gridColor":"#F3F3F3"}}}}
]
},
{
"width":192,"height":192,
"resolve":{"axis":{"x":"independent","y":"independent"}},
"layer":[
{"data":{"name":"B"},"mark":{"type":"circle","size":18,"opacity":0.75},
"encoding":{
"x":{"field":"x","type":"quantitative","scale":{"domain":[-4.8,4.08],"nice":false,"zero":false},"axis":{"orient":"bottom","values":[-4,-2,0,2,4],"title":"log₂(Fold Change)"}},
"y":{"field":"y","type":"quantitative","scale":{"domain":[0.644,16.9],"nice":false,"zero":false},"axis":{"orient":"left","values":[4,8,12,16],"title":"− log₁₀(P Value)"}},
"color":{"field":"g","type":"nominal","scale":{"domain":["D","N","U"],"range":["#2F5B8E","#BDBDBD","#C1272D"]},"legend":null}}},
{"data":{"values":[{"v":-1},{"v":1}]},"mark":{"type":"rule","strokeDash":[5,3],"color":"#262626","strokeWidth":1.2},
"encoding":{"x":{"field":"v","type":"quantitative","scale":{"domain":[-4.8,4.08],"nice":false,"zero":false},"axis":{"orient":"top","values":[-3,-1,1,3],"labels":false,"ticks":false,"domain":false,"title":null,"grid":true,"gridColor":"#F3F3F3"}}}},
{"data":{"values":[{"v":1.3}]},"mark":{"type":"rule","strokeDash":[5,3],"color":"#262626","strokeWidth":1.2},
"encoding":{"y":{"field":"v","type":"quantitative","scale":{"domain":[0.644,16.9],"nice":false,"zero":false},"axis":{"orient":"right","values":[2,6,10,14],"labels":false,"ticks":false,"domain":false,"title":null,"grid":true,"gridColor":"#F3F3F3"}}}}
]
},
{
"width":198,"height":197,
"resolve":{"axis":{"x":"independent","y":"independent"}},
"layer":[
{"data":{"name":"C"},"mark":{"type":"circle","size":18,"opacity":0.75},
"encoding":{
"x":{"field":"x","type":"quantitative","scale":{"domain":[-5.673,3.645],"nice":false,"zero":false},"axis":{"orient":"bottom","values":[-4,-2,0,2],"title":"log₂(Fold Change)"}},
"y":{"field":"y","type":"quantitative","scale":{"domain":[-0.76,44.54],"nice":false,"zero":false},"axis":{"orient":"left","values":[0,10,20,30,40],"title":"− log₁₀(P Value)"}},
"color":{"field":"g","type":"nominal","scale":{"domain":["D","N","U"],"range":["#2F5B8E","#BDBDBD","#C1272D"]},
"legend":{"title":"Group","orient":"none","legendX":208,"legendY":59,"padding":0,"titleFont":"Liberation Sans","titleFontSize":14,"titleFontWeight":"normal","titleColor":"#000","titlePadding":13,"labelFont":"Liberation Sans","labelFontSize":8,"labelColor":"#000","symbolType":"circle","symbolSize":14,"symbolOpacity":0.7,"symbolOffset":3,"labelOffset":1,"rowPadding":13,
"labelExpr":"datum.label == 'D' ? 'Down-regulated' : datum.label == 'N' ? 'not-significant' : 'Up-regulated'"}}}},
{"data":{"values":[{"v":-1},{"v":1}]},"mark":{"type":"rule","strokeDash":[5,3],"color":"#262626","strokeWidth":1.2},
"encoding":{"x":{"field":"v","type":"quantitative","scale":{"domain":[-5.673,3.645],"nice":false,"zero":false},"axis":{"orient":"top","values":[-5,-3,-1,1,3],"labels":false,"ticks":false,"domain":false,"title":null,"grid":true,"gridColor":"#F3F3F3"}}}},
{"data":{"values":[{"v":1.3}]},"mark":{"type":"rule","strokeDash":[5,3],"color":"#262626","strokeWidth":1.2},
"encoding":{"y":{"field":"v","type":"quantitative","scale":{"domain":[-0.76,44.54],"nice":false,"zero":false},"axis":{"orient":"right","values":[5,15,25,35],"labels":false,"ticks":false,"domain":false,"title":null,"grid":true,"gridColor":"#F3F3F3"}}}}
]
},
{
"width":187,"height":256,
"view":{"stroke":null},
"layer":[
{"data":{"values":[{"ds":"GSE27651","x":0,"y":0},{"ds":"GSE57477","x":0.918,"y":0.01},{"ds":"GSE9899","x":0.459,"y":0.782}]},
"mark":{"type":"point","shape":"M-1,0C-1,-0.4967,-0.5523,-0.8994,0,-0.8994C0.5523,-0.8994,1,-0.4967,1,0C1,0.4967,0.5523,0.8994,0,0.8994C-0.5523,0.8994,-1,0.4967,-1,0Z","size":28561,"filled":true,"opacity":1,"fillOpacity":0.5,"strokeOpacity":0.6,"strokeWidth":1.2},
"encoding":{
"x":{"field":"x","type":"quantitative","scale":{"domain":[-0.7118,1.4882],"nice":false,"zero":false},"axis":null},
"y":{"field":"y","type":"quantitative","scale":{"domain":[-1.1294,1.8824],"nice":false,"zero":false,"reverse":true},"axis":null},
"fill":{"field":"ds","type":"nominal","scale":{"domain":["GSE27651","GSE57477","GSE9899"],"range":["#0B2A8F","#B00A0A","#0A8A0A"]},"legend":null},
"stroke":{"field":"ds","type":"nominal","scale":{"domain":["GSE27651","GSE57477","GSE9899"],"range":["#0B2A8F","#B00A0A","#0A8A0A"]},"legend":null}}},
{"data":{"values":[{"ds":"GSE27651","x":3.106,"y":0},{"ds":"GSE57477","x":4.051,"y":0},{"ds":"GSE9899","x":3.571,"y":0.776}]},
"mark":{"type":"point","shape":"M-1,0C-1,-0.4797,-0.5523,-0.8686,0,-0.8686C0.5523,-0.8686,1,-0.4797,1,0C1,0.4797,0.5523,0.8686,0,0.8686C-0.5523,0.8686,-1,0.4797,-1,0Z","size":30625,"filled":true,"opacity":1,"fillOpacity":0.5,"strokeOpacity":0.6,"strokeWidth":1.2},
"encoding":{
"x":{"field":"x","type":"quantitative","scale":{"domain":[-0.7118,1.4882],"nice":false,"zero":false},"axis":null},
"y":{"field":"y","type":"quantitative","scale":{"domain":[-1.1294,1.8824],"nice":false,"zero":false,"reverse":true},"axis":null},
"fill":{"field":"ds","type":"nominal","scale":{"domain":["GSE27651","GSE57477","GSE9899"],"range":["#0B2A8F","#B00A0A","#0A8A0A"]},"legend":null},
"stroke":{"field":"ds","type":"nominal","scale":{"domain":["GSE27651","GSE57477","GSE9899"],"range":["#0B2A8F","#B00A0A","#0A8A0A"]},"legend":null}}},
{"data":{"values":[{"n":218,"x":-0.512,"y":-0.2},{"n":6,"x":0.456,"y":-0.368},{"n":17,"x":1.379,"y":-0.22},{"n":81,"x":0.449,"y":0.227},{"n":147,"x":-0.186,"y":0.632},{"n":17,"x":1.018,"y":0.651},{"n":149,"x":0.421,"y":1.22},{"n":519,"x":2.579,"y":-0.2},{"n":30,"x":3.579,"y":-0.376},{"n":49,"x":4.527,"y":-0.224},{"n":153,"x":3.586,"y":0.22},{"n":262,"x":2.92,"y":0.632},{"n":47,"x":4.147,"y":0.651},{"n":264,"x":3.535,"y":1.22}]},
"mark":{"type":"text","font":"Liberation Sans","fontSize":17,"color":"#000","baseline":"middle","align":"center"},
"encoding":{
"x":{"field":"x","type":"quantitative","scale":{"domain":[-0.7118,1.4882],"nice":false,"zero":false},"axis":null},
"y":{"field":"y","type":"quantitative","scale":{"domain":[-1.1294,1.8824],"nice":false,"zero":false,"reverse":true},"axis":null},
"text":{"field":"n","type":"nominal"}}},
{"data":{"values":[{"t":"GSE27651-up","x":-0.073,"y":-1.004},{"t":"GSE57477-up","x":1.049,"y":-1.004},{"t":"GSE9899-up","x":0.429,"y":1.788},{"t":"GSE27651-down","x":2.939,"y":-1.004},{"t":"GSE57477-down","x":4.273,"y":-1.015},{"t":"GSE9899-down","x":3.571,"y":1.788}]},
"mark":{"type":"text","font":"Liberation Serif","fontWeight":"bold","fontSize":11,"color":"#222","baseline":"middle","align":"center"},
"encoding":{
"x":{"field":"x","type":"quantitative","scale":{"domain":[-0.7118,1.4882],"nice":false,"zero":false},"axis":null},
"y":{"field":"y","type":"quantitative","scale":{"domain":[-1.1294,1.8824],"nice":false,"zero":false,"reverse":true},"axis":null},
"text":{"field":"t","type":"nominal"}}},
{"data":{"values":[{"t":"GSE27651","x":0.382,"y":-4.129},{"t":"GSE57477","x":3.065,"y":-4.153},{"t":"GSE9899","x":5.865,"y":-4.129}]},
"mark":{"type":"text","font":"Liberation Serif","fontWeight":"bold","fontSize":13,"color":"#1A1A1A","baseline":"middle","align":"center"},
"encoding":{
"x":{"field":"x","type":"quantitative","scale":{"domain":[-0.7118,1.4882],"nice":false,"zero":false},"axis":null},
"y":{"field":"y","type":"quantitative","scale":{"domain":[-1.1294,1.8824],"nice":false,"zero":false,"reverse":true},"axis":null},
"text":{"field":"t","type":"nominal"}}},
{"data":{"values":[{"t":"A","x":-0.935,"y":-4.282},{"t":"B","x":1.762,"y":-4.259},{"t":"C","x":4.685,"y":-4.251},{"t":"D","x":-0.9,"y":-1.176},{"t":"E","x":1.935,"y":-1.176}]},
"mark":{"type":"text","font":"Liberation Serif","fontWeight":"bold","fontSize":9,"color":"#111","baseline":"middle","align":"center"},
"encoding":{
"x":{"field":"x","type":"quantitative","scale":{"domain":[-0.7118,1.4882],"nice":false,"zero":false},"axis":null},
"y":{"field":"y","type":"quantitative","scale":{"domain":[-1.1294,1.8824],"nice":false,"zero":false,"reverse":true},"axis":null},
"text":{"field":"t","type":"nominal"}}}
]
}
],
"config":{
"view":{"stroke":"#8C8C8C","strokeWidth":1},
"font":"Liberation Sans",
"axis":{"gridColor":"#EBEBEB","gridWidth":1,"domain":false,"tickColor":"#333333","tickSize":3,"labelColor":"#4D4D4D","labelFontSize":10,"labelFont":"Liberation Sans","labelPadding":1.5,"titleFont":"Liberation Sans","titleFontWeight":"normal","titleColor":"#000000"},
"axisX":{"titleFontSize":12,"titlePadding":5},
"axisY":{"titleFontSize":13,"titlePadding":0}
}
}
